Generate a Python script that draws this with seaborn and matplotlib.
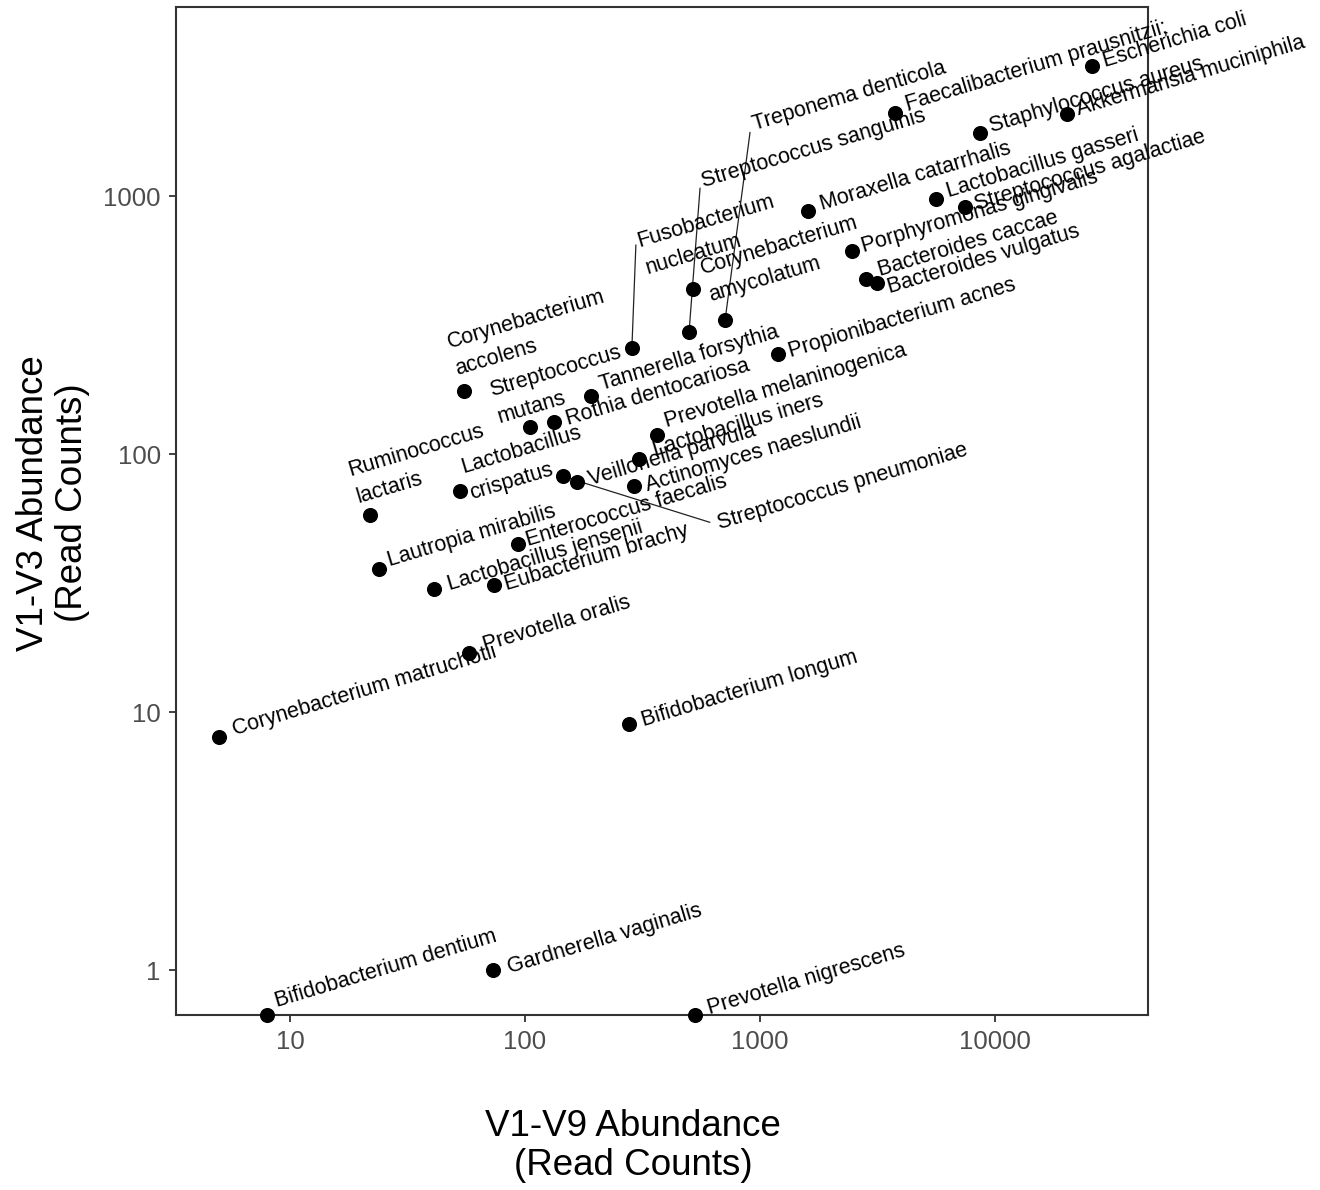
import numpy as np
import pandas as pd
import matplotlib
matplotlib.use("Agg")
import matplotlib.pyplot as plt
from matplotlib.ticker import NullLocator
import seaborn as sns

# Read counts per taxon: full-length (V1-V9) vs. V1-V3 amplicon
taxa = [
    "Escherichia coli", "Faecalibacterium prausnitzii;", "Staphylococcus aureus",
    "Akkermansia muciniphila", "Moraxella catarrhalis", "Lactobacillus gasseri",
    "Streptococcus agalactiae", "Porphyromonas gingivalis", "Bacteroides caccae",
    "Bacteroides vulgatus", "Treponema denticola", "Streptococcus sanguinis",
    "Fusobacterium nucleatum", "Corynebacterium amycolatum", "Propionibacterium acnes",
    "Corynebacterium accolens", "Tannerella forsythia", "Streptococcus mutans",
    "Rothia dentocariosa", "Prevotella melaninogenica", "Lactobacillus iners",
    "Streptococcus pneumoniae", "Veillonella parvula", "Actinomyces naeslundii",
    "Lactobacillus crispatus", "Ruminococcus lactaris", "Enterococcus faecalis",
    "Lautropia mirabilis", "Lactobacillus jensenii", "Eubacterium brachy",
    "Prevotella oralis", "Corynebacterium matruchotii", "Bifidobacterium longum",
    "Gardnerella vaginalis", "Bifidobacterium dentium", "Prevotella nigrescens",
]
v1v9_counts = [
    25900, 3750, 8630, 20200, 1600, 5610, 7450, 2460, 2820, 3150,
    710, 499, 285, 519, 1194, 55, 191, 105, 133, 365,
    306, 145, 166, 291, 53, 22, 93, 24, 41, 74,
    58, 5, 277, 73, 8, 528,
]
v1v3_counts = [
    3190, 2100, 1755, 2080, 875, 973, 906, 612, 476, 460,
    330, 297, 258, 436, 244, 175, 168, 127, 133, 119,
    96, 82, 78, 75, 72, 58, 45, 36, 30, 31,
    17, 8, 9, 1, 0, 0,
]

x_ticks = [10, 100, 1000, 10000]
x_tick_labels = ["10", "100", "1000", "10000"]
y_ticks = [1, 10, 100, 1000]
y_tick_labels = ["1", "10", "100", "1000"]

# Labels that are wrapped onto two lines
wrapped = {
    "Fusobacterium nucleatum", "Corynebacterium amycolatum",
    "Corynebacterium accolens", "Streptococcus mutans",
    "Lactobacillus crispatus", "Ruminococcus lactaris",
}

# Label placement: pixel offset from each point to the label's left-middle (+y up)
label_offsets = {
    "Escherichia coli": (11, 4),
    "Faecalibacterium prausnitzii;": (11, 8),
    "Staphylococcus aureus": (10, 6),
    "Akkermansia muciniphila": (10, 4),
    "Moraxella catarrhalis": (12, 6),
    "Lactobacillus gasseri": (11, 7),
    "Streptococcus agalactiae": (10, 2),
    "Porphyromonas gingivalis": (10, 4),
    "Bacteroides caccae": (13, 9),
    "Bacteroides vulgatus": (11, -5),
    "Treponema denticola": (28, 195),
    "Streptococcus sanguinis": (13, 150),
    "Fusobacterium nucleatum": (10, 93),
    "Corynebacterium amycolatum": (12, 7),
    "Propionibacterium acnes": (11, 2),
    "Corynebacterium accolens": (-12, 35),
    "Tannerella forsythia": (9, 11),
    "Streptococcus mutans": (-36, 23),
    "Rothia dentocariosa": (12, 2),
    "Prevotella melaninogenica": (8, 13),
    "Lactobacillus iners": (14, 8),
    "Streptococcus pneumoniae": (155, -48),
    "Veillonella parvula": (12, 2),
    "Actinomyces naeslundii": (12, 0),
    "Lactobacillus crispatus": (6, 10),
    "Ruminococcus lactaris": (-18, 31),
    "Enterococcus faecalis": (9, 3),
    "Lautropia mirabilis": (9, 8),
    "Lactobacillus jensenii": (14, 4),
    "Eubacterium brachy": (11, 0),
    "Prevotella oralis": (14, 7),
    "Corynebacterium matruchotii": (14, 7),
    "Bifidobacterium longum": (13, 3),
    "Gardnerella vaginalis": (15, 2),
    "Bifidobacterium dentium": (8, 13),
    "Prevotella nigrescens": (13, 6),
}
# Leader segments for labels placed away from their point
leader_ends = {
    "Treponema denticola": (25, 188),
    "Streptococcus sanguinis": (11, 144),
    "Fusobacterium nucleatum": (4, 103),
    "Streptococcus pneumoniae": (147, -46),
}

sns.set_theme(style="white")
plt.rcParams["font.family"] = ["Liberation Sans", "DejaVu Sans"]

fig = plt.figure(figsize=(13.2, 11.9), dpi=100)
W, H = 1320, 1190
left, right, top, bottom = 176, 1148, 7, 1015
ax = fig.add_axes([left / W, (H - bottom) / H, (right - left) / W, (bottom - top) / H])

xlim = (10 ** 0.515, 10 ** 4.651)
ylim = (10 ** -0.174, 10 ** 3.733)

df = pd.DataFrame({"taxon": taxa, "v1v9": v1v9_counts, "v1v3": v1v3_counts})
# zero counts sit on the lower edge of the log axis
df["v1v3_plot"] = np.where(df["v1v3"] > 0, df["v1v3"], ylim[0])

sns.scatterplot(data=df, x="v1v9", y="v1v3_plot", ax=ax, color="black",
                s=118, linewidth=0, clip_on=False, zorder=3, legend=False)

ax.set_xscale("log")
ax.set_yscale("log")
ax.set_xlim(*xlim)
ax.set_ylim(*ylim)
ax.set_xticks(x_ticks)
ax.set_xticklabels(x_tick_labels)
ax.set_yticks(y_ticks)
ax.set_yticklabels(y_tick_labels)
ax.xaxis.set_minor_locator(NullLocator())
ax.yaxis.set_minor_locator(NullLocator())

for sp in ax.spines.values():
    sp.set_visible(True)
    sp.set_color("#333333")
    sp.set_linewidth(1.5)

ax.tick_params(axis="both", which="major", length=5, width=1.3, color="#333333",
               labelsize=18.5, labelcolor="#4D4D4D", pad=6, direction="out")
ax.tick_params(axis="x", bottom=True)
ax.tick_params(axis="y", left=True)

ax.set_xlabel("V1-V9 Abundance\n(Read Counts)", fontsize=26.5, color="black",
              linespacing=1.15)
ax.set_ylabel("V1-V3 Abundance\n(Read Counts)", fontsize=26.5, color="black",
              linespacing=1.15)
ax.xaxis.set_label_coords((633 - left) / (right - left), -(1109 - bottom) / (bottom - top))
ax.yaxis.set_label_coords(-(176 - 90) / (right - left), (bottom - 503) / (bottom - top))

angle = 16.6
for _, row in df.iterrows():
    name = row["taxon"]
    dx, dy = label_offsets[name]
    xy = (row["v1v9"], row["v1v3_plot"])
    if name in leader_ends:
        ex, ey = leader_ends[name]
        ax.annotate("", xy=xy, xytext=(ex, ey), textcoords="offset pixels",
                    arrowprops=dict(arrowstyle="-", color="#222222", lw=0.9,
                                    shrinkA=0, shrinkB=0),
                    annotation_clip=False, zorder=2)
    text = name.replace(" ", "\n") if name in wrapped else name
    ax.annotate(text, xy=xy, xytext=(dx, dy), textcoords="offset pixels",
                rotation=angle, rotation_mode="anchor", ha="left", va="center",
                multialignment="left", fontsize=15.5, color="black",
                linespacing=1.45, annotation_clip=False, zorder=4)

fig.savefig("out.png", dpi=100)
